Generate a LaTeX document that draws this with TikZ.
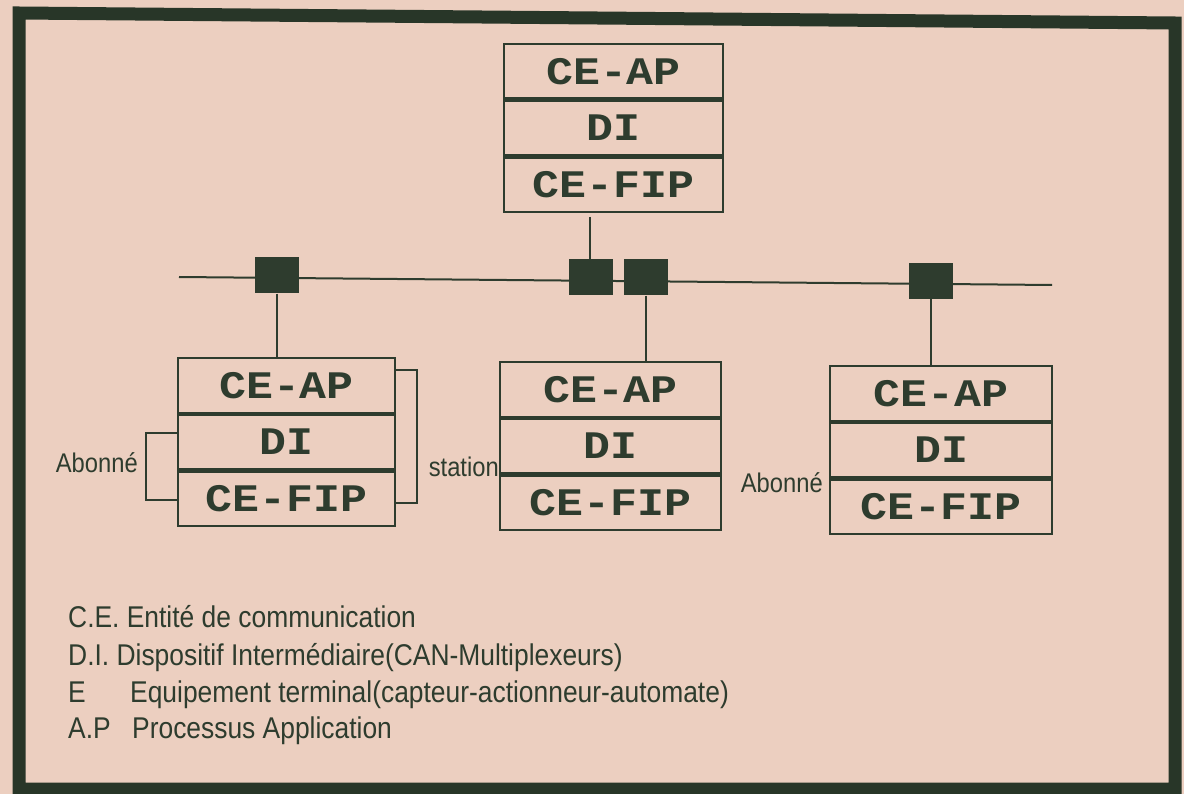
\documentclass[tikz,border=0pt]{standalone}
\usepackage{fontspec}
\newfontfamily\boxfont{Liberation Mono}[FakeStretch=1.15]
\newfontfamily\legfont{Liberation Sans}[FakeStretch=0.88]
\definecolor{paper}{RGB}{236,207,192}
\definecolor{ink}{RGB}{46,60,46}
\definecolor{framecol}{RGB}{40,54,40}
\tikzset{
  layer/.style={draw=ink, line width=2.2pt, minimum height=54.5pt, inner sep=0pt,
    text height=25.5pt, text depth=0pt, anchor=north, text=ink,
    font=\boxfont\bfseries\fontsize{39}{40}\selectfont},
  tap/.style={fill=ink, draw=none, minimum width=44pt, minimum height=36pt, inner sep=0pt},
  wire/.style={draw=ink, line width=2pt},
  lab/.style={text=ink, inner sep=0pt, font=\legfont\fontsize{27}{30}\selectfont},
  leg/.style={text=ink, inner sep=0pt, anchor=base west, font=\legfont\fontsize{30}{32}\selectfont}
}
\begin{document}
\begin{tikzpicture}[x=1pt,y=-1pt]
\useasboundingbox (0,0) rectangle (1184,794);
\fill[paper] (0,0) rectangle (1184,794);
\draw[framecol, line width=13pt, line join=miter] (19,13) -- (1175,23) -- (1175,789) -- (19,789) -- cycle;

% top box
\node[layer, minimum width=219pt] (T1) at (613.5,43) {CE-AP};
\node[layer, minimum width=219pt] (T2) at (T1.south) {DI};
\node[layer, minimum width=219pt] (T3) at (T2.south) {CE-FIP};

% left box
\node[layer, minimum width=217pt] (L1) at (286.5,357) {CE-AP};
\node[layer, minimum width=217pt] (L2) at (L1.south) {DI};
\node[layer, minimum width=217pt] (L3) at (L2.south) {CE-FIP};

% middle box
\node[layer, minimum width=221pt] (M1) at (610.5,361) {CE-AP};
\node[layer, minimum width=221pt] (M2) at (M1.south) {DI};
\node[layer, minimum width=221pt] (M3) at (M2.south) {CE-FIP};

% right box
\node[layer, minimum width=222pt] (R1) at (941,365) {CE-AP};
\node[layer, minimum width=222pt] (R2) at (R1.south) {DI};
\node[layer, minimum width=222pt] (R3) at (R2.south) {CE-FIP};

% bus
\coordinate (busL) at (179,277);
\coordinate (busR) at (1052,285);
\draw[wire] (busL) -- (busR);

\node[tap] (SL) at (277,275.5) {};
\node[tap] (SM1) at (590.5,277.5) {};
\node[tap] (SM2) at (645.5,277.5) {};
\node[tap] (SR) at (930.5,281) {};

% drops
\coordinate (Tfoot) at (590,217);
\draw[wire] (Tfoot) -- (Tfoot |- SM1.north);
\draw[wire] (SL.south) -- (SL.south |- L1.north);
\draw[wire] (SM2.south) -- (SM2.south |- M1.north);
\draw[wire] (SR.south) -- (SR.south |- R1.north);

% brackets on left box
\draw[wire] (L2.west |- 0,433) -- ++(-31,0) -- ++(0,67) -- (L3.west |- 0,500);
\draw[wire] (L1.east |- 0,370) -- ++(21,0) -- ++(0,133) -- (L3.east |- 0,503);

% labels
\node[lab, anchor=base east] (ab1) at (138,472) {Abonné};
\node[lab, anchor=base east] (st) at (499,476) {station};
\node[lab, anchor=base east] (ab2) at (823,492) {Abonné};

% legend
\node[leg] (c1) at (68,627) {C.E. Entité de communication};
\node[leg] (c2) at (68,665) {D.I. Dispositif Intermédiaire(CAN-Multiplexeurs)};
\node[leg] (c3a) at (68,702) {E};
\node[leg] (c3b) at (130,702) {Equipement terminal(capteur-actionneur-automate)};
\node[leg] (c4a) at (68,738) {A.P};
\node[leg] (c4b) at (132,738) {Processus Application};
\end{tikzpicture}
\end{document}
